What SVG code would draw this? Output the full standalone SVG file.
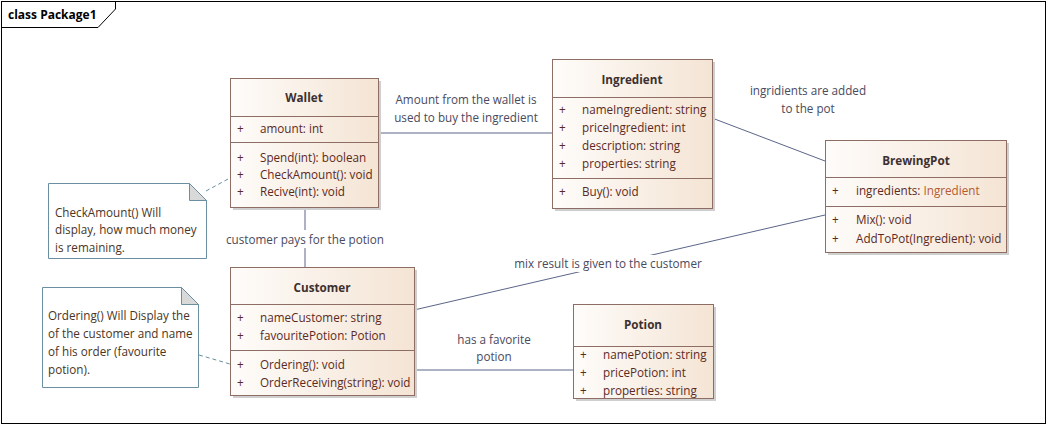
<svg xmlns="http://www.w3.org/2000/svg" width="1048" height="426" viewBox="0 0 1048 426">
<defs>
<linearGradient id="nodeFill" x1="0" y1="0" x2="1" y2="0">
<stop offset="0" stop-color="#fefcfa"/>
<stop offset="1" stop-color="#f4e4d4"/>
</linearGradient>
<style>
text{font-family:"Open Sans","Liberation Sans",sans-serif;font-size:11.7px;dominant-baseline:central}
.box{fill:url(#nodeFill);stroke:#8e6e64;stroke-width:1}
.shadow{fill:#cfcfcf}
.sep{stroke:#8e6e64;stroke-width:1}
.title{font-weight:bold;fill:#3d3030;text-anchor:middle}
.mem{fill:#5b2a1e}
.typ{fill:#b55a30}
.conn{stroke:#5b6588;stroke-width:1;fill:none}
.note{fill:#ffffff;stroke:#6a8fa0;stroke-width:1}
.fold{fill:#d9d9d9;stroke:#6a8fa0;stroke-width:1}
.dash{stroke:#6a8fa0;stroke-width:1;stroke-dasharray:4,3;fill:none}
.lbl{fill:#4a4a5c}
.nt{fill:#4a3525}
.lblbg{fill:#ffffff}
</style>
</defs>
<rect x="0" y="0" width="1048" height="426" fill="#ffffff"/>
<g id="frame">
<rect x="1.5" y="1.5" width="1044" height="422" fill="none" stroke="#000000" stroke-width="1"/>
<path d="M1.5,27.5 H98 L115.5,9 V1.5" fill="none" stroke="#000000" stroke-width="1"/>
<text x="8" y="14" style="font-weight:bold;fill:#000000;font-size:12px">class Package1</text>
</g>
<g id="connectors">
<line class="conn" x1="378" y1="133" x2="552" y2="133"/>
<line class="conn" x1="712" y1="118" x2="825" y2="161"/>
<line class="conn" x1="305" y1="207" x2="305" y2="267"/>
<line class="conn" x1="414" y1="310" x2="825" y2="215"/>
<line class="conn" x1="414" y1="370" x2="573" y2="370"/>
<line class="dash" x1="206" y1="191" x2="230" y2="178"/>
<line class="dash" x1="199" y1="355" x2="230" y2="364"/>
<rect class="lblbg" x="387" y="90" width="158" height="36"/>
<text class="lbl" x="466" y="99" text-anchor="middle">Amount from the wallet is</text>
<text class="lbl" x="466" y="117" text-anchor="middle">used to buy the ingredient</text>
<text class="lbl" x="808" y="90" text-anchor="middle">ingridients are added</text>
<text class="lbl" x="808" y="108" text-anchor="middle">to the pot</text>
<rect class="lblbg" x="222" y="230" width="166" height="18"/>
<text class="lbl" x="305" y="239" text-anchor="middle">customer pays for the potion</text>
<rect class="lblbg" x="510" y="255" width="196" height="17"/>
<text class="lbl" x="608" y="263" text-anchor="middle">mix result is given to the customer</text>
<text class="lbl" x="494" y="339" text-anchor="middle">has a favorite</text>
<text class="lbl" x="494" y="356" text-anchor="middle">potion</text>
</g>
<g id="Wallet">
<rect class="shadow" x="233" y="81" width="148" height="129"/>
<rect class="box" x="230.5" y="78.5" width="148" height="129"/>
<line class="sep" x1="230.5" y1="116.5" x2="378.5" y2="116.5"/>
<line class="sep" x1="230.5" y1="142.5" x2="378.5" y2="142.5"/>
<text class="title" x="304" y="97">Wallet</text>
<text class="mem" x="237" y="128">+</text><text class="mem" x="260" y="128">amount: int</text>
<text class="mem" x="237" y="157">+</text><text class="mem" x="260" y="157">Spend(int): boolean</text>
<text class="mem" x="237" y="174">+</text><text class="mem" x="260" y="174">CheckAmount(): void</text>
<text class="mem" x="237" y="191">+</text><text class="mem" x="260" y="191">Recive(int): void</text>
</g>
<g id="Ingredient">
<rect class="shadow" x="555" y="62" width="160" height="149"/>
<rect class="box" x="552.5" y="59.5" width="160" height="149"/>
<line class="sep" x1="552.5" y1="97.5" x2="712.5" y2="97.5"/>
<line class="sep" x1="552.5" y1="178.5" x2="712.5" y2="178.5"/>
<text class="title" x="632" y="79">Ingredient</text>
<text class="mem" x="559" y="109">+</text><text class="mem" x="582" y="109">nameIngredient: string</text>
<text class="mem" x="559" y="127">+</text><text class="mem" x="582" y="127">priceIngredient: int</text>
<text class="mem" x="559" y="145">+</text><text class="mem" x="582" y="145">description: string</text>
<text class="mem" x="559" y="163">+</text><text class="mem" x="582" y="163">properties: string</text>
<text class="mem" x="559" y="191">+</text><text class="mem" x="582" y="191">Buy(): void</text>
</g>
<g id="BrewingPot">
<rect class="shadow" x="828" y="143" width="181" height="112"/>
<rect class="box" x="825.5" y="140.5" width="181" height="112"/>
<line class="sep" x1="825.5" y1="177.5" x2="1006.5" y2="177.5"/>
<line class="sep" x1="825.5" y1="206.5" x2="1006.5" y2="206.5"/>
<text class="title" x="916" y="160">BrewingPot</text>
<text class="mem" x="832" y="190">+</text><text class="mem" x="856" y="190">ingredients: <tspan class="typ">Ingredient</tspan></text>
<text class="mem" x="832" y="219">+</text><text class="mem" x="856" y="219">Mix(): void</text>
<text class="mem" x="832" y="238">+</text><text class="mem" x="856" y="238">AddToPot(Ingredient): void</text>
</g>
<g id="Customer">
<rect class="shadow" x="233" y="270" width="184" height="128"/>
<rect class="box" x="230.5" y="267.5" width="184" height="128"/>
<line class="sep" x1="230.5" y1="304.5" x2="414.5" y2="304.5"/>
<line class="sep" x1="230.5" y1="350.5" x2="414.5" y2="350.5"/>
<text class="title" x="322" y="287">Customer</text>
<text class="mem" x="237" y="317">+</text><text class="mem" x="260" y="317">nameCustomer: string</text>
<text class="mem" x="237" y="335">+</text><text class="mem" x="260" y="335">favouritePotion: Potion</text>
<text class="mem" x="237" y="364">+</text><text class="mem" x="260" y="364">Ordering(): void</text>
<text class="mem" x="237" y="382">+</text><text class="mem" x="260" y="382">OrderReceiving(string): void</text>
</g>
<g id="Potion">
<rect class="shadow" x="576" y="307" width="140" height="94"/>
<rect class="box" x="573.5" y="304.5" width="140" height="94"/>
<line class="sep" x1="573.5" y1="346.5" x2="713.5" y2="346.5"/>
<text class="title" x="643" y="324">Potion</text>
<text class="mem" x="580" y="354">+</text><text class="mem" x="603" y="354">namePotion: string</text>
<text class="mem" x="580" y="372">+</text><text class="mem" x="603" y="372">pricePotion: int</text>
<text class="mem" x="580" y="390">+</text><text class="mem" x="603" y="390">properties: string</text>
</g>
<g id="NoteCheckAmount">
<path class="note" d="M48.5,183.5 H189.5 L206.5,200.5 V258.5 H48.5 Z"/>
<path class="fold" d="M189.5,183.5 V200.5 H206.5 Z"/>
<text class="nt" x="55" y="212">CheckAmount() Will</text>
<text class="nt" x="55" y="229">display, how much money</text>
<text class="nt" x="55" y="247">is remaining.</text>
</g>
<g id="NoteOrdering">
<path class="note" d="M42.5,287.5 H181.5 L198.5,304.5 V387.5 H42.5 Z"/>
<path class="fold" d="M181.5,287.5 V304.5 H198.5 Z"/>
<text class="nt" x="48" y="315">Ordering() Will Display the</text>
<text class="nt" x="48" y="333">of the customer and name</text>
<text class="nt" x="48" y="351">of his order (favourite</text>
<text class="nt" x="48" y="369">potion).</text>
</g>
</svg>
